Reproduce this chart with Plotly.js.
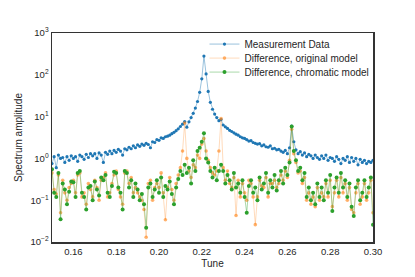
<!DOCTYPE html>
<html>
<head>
<meta charset="utf-8">
<script src="https://cdn.plot.ly/plotly-3.0.1.min.js"></script>
<style>html,body{margin:0;padding:0;background:#fff;}#chart{width:415px;height:277px;}</style>
</head>
<body>
<div id="chart"></div>
<script>
// Tune grid: 0.150 .. 0.300, step 0.001
const tuneStart = 0.150, tuneStep = 0.001, tuneCount = 151;
const tune = Array.from({length: tuneCount}, (_, i) => +(tuneStart + i * tuneStep).toFixed(3));

const measurement = [
 0.75,1.1,0.6,1.2,1.0,1.05,0.8,1.1,0.9,1.15,
 1.0,1.1,0.85,1.2,1.1,0.95,1.25,1.05,1.3,1.15,
 1.3,1.0,1.35,1.2,0.8,1.4,1.25,1.5,1.3,1.55,
 1.4,1.65,1.5,1.2,1.7,1.6,1.85,1.7,2.0,1.8,
 2.1,1.95,2.2,2.05,2.3,2.15,1.8,2.5,2.4,2.8,
 2.7,3.1,3.0,3.3,3.4,3.6,3.9,4.2,4.6,5.1,
 5.8,6.6,7.6,5.6,7.5,9.5,12,16,23,38,
 80,280,105,40,22,15,11.5,9.5,8,8.5,
 6.3,5.7,5.2,4.7,4.4,4.1,3.8,3.6,3.3,3.1,
 3.0,2.8,2.6,2.65,2.4,2.3,2.2,2.25,2.0,2.1,
 1.9,1.85,2.0,1.7,1.75,1.6,1.65,1.5,1.4,1.55,
 1.3,1.8,5.9,2.5,1.6,1.3,1.45,1.2,1.35,1.1,
 1.25,1.15,1.0,1.2,1.05,0.95,1.15,1.0,1.2,0.9,
 1.05,1.0,0.85,1.1,0.95,0.75,1.0,0.9,1.1,0.8,
 1.05,0.85,1.0,0.7,0.95,0.8,0.9,0.75,0.85,0.8,
 0.9
];

const diffOriginal = [
 0.45,0.18,0.14,0.4,0.05,0.3,0.15,0.1,0.2,0.25,
 0.3,0.15,0.4,0.45,0.12,0.15,0.08,0.25,0.18,0.12,
 0.3,0.2,0.1,0.3,0.35,0.45,0.12,0.15,0.25,0.4,
 0.5,0.18,0.12,0.08,0.45,0.5,0.25,0.35,0.15,0.2,
 0.15,0.12,0.1,0.06,0.013,0.25,0.3,0.1,0.2,0.25,
 0.2,0.45,0.15,0.034,0.2,0.35,0.18,0.1,0.25,0.4,
 0.6,1.5,7.0,1.0,0.5,0.35,0.7,0.6,1.2,1.0,
 2.2,3.0,1.5,0.9,0.6,0.45,0.4,0.5,1.5,9.0,
 0.6,0.3,0.5,0.25,0.2,0.35,0.043,0.3,0.12,0.25,
 0.15,0.1,0.3,0.25,0.12,0.026,0.12,0.3,0.22,0.2,
 0.35,0.12,0.25,0.25,0.3,0.2,0.25,0.4,0.3,0.5,
 0.35,0.9,5.0,1.3,0.8,0.45,0.5,0.25,0.35,0.1,
 0.15,0.08,0.12,0.07,0.2,0.1,0.15,0.12,0.25,0.12,
 0.3,0.07,0.15,0.3,0.12,0.35,0.15,0.25,0.1,0.2,
 0.06,0.05,0.15,0.25,0.08,0.12,0.25,0.1,0.15,0.3,
 0.05
];

const diffChromatic = [
 0.55,0.15,0.12,0.45,0.035,0.25,0.18,0.08,0.16,0.28,
 0.27,0.12,0.45,0.5,0.15,0.12,0.06,0.2,0.22,0.1,
 0.28,0.18,0.13,0.35,0.3,0.4,0.15,0.12,0.22,0.48,
 0.45,0.2,0.15,0.06,0.5,0.45,0.2,0.3,0.12,0.25,
 0.18,0.1,0.14,0.08,0.022,0.2,0.25,0.12,0.18,0.3,
 0.15,0.35,0.12,0.22,0.18,0.28,0.14,0.08,0.2,0.32,
 0.5,0.4,0.7,0.45,0.6,0.25,0.9,0.5,1.5,1.8,
 2.5,4.0,1.0,0.8,0.5,0.35,0.6,0.3,0.5,0.7,
 0.5,0.25,0.4,0.3,0.18,0.45,0.2,0.25,0.15,0.3,
 0.12,0.05,0.22,0.3,0.15,0.2,0.1,0.35,0.18,0.25,
 0.45,0.15,0.3,0.2,0.4,0.17,0.3,0.5,0.25,0.6,
 0.4,0.8,5.8,1.5,0.9,0.5,0.6,0.3,0.45,0.12,
 0.2,0.1,0.15,0.08,0.25,0.12,0.2,0.1,0.3,0.15,
 0.4,0.055,0.2,0.35,0.15,0.45,0.2,0.3,0.12,0.25,
 0.07,0.042,0.2,0.3,0.1,0.15,0.3,0.12,0.2,0.35,
 0.026
];

const seriesNames = ['Measurement Data', 'Difference, original model', 'Difference, chromatic model'];
const yTickVals = [0.01, 0.1, 1, 10, 100, 1000];
const yTickText = ['10<sup>\u22122</sup>', '10<sup>\u22121</sup>', '10<sup>0</sup>', '10<sup>1</sup>', '10<sup>2</sup>', '10<sup>3</sup>'];
const xTickVals = [0.16, 0.18, 0.20, 0.22, 0.24, 0.26, 0.28, 0.30];
const xTickText = ['0.16', '0.18', '0.20', '0.22', '0.24', '0.26', '0.28', '0.30'];

const FONT = 'Liberation Sans, Arial, sans-serif';

const traces = [
  {x: tune, y: measurement, name: seriesNames[0], type: 'scatter', mode: 'lines+markers',
   line: {color: 'rgba(31,119,180,0.45)', width: 1},
   marker: {color: '#1f77b4', size: 3.2}, legend: 'legend'},
  {x: tune, y: diffOriginal, name: seriesNames[1], type: 'scatter', mode: 'lines+markers',
   line: {color: 'rgba(255,127,14,0.28)', width: 1},
   marker: {color: 'rgba(255,127,14,0.6)', size: 3.6}, legend: 'legend2'},
  {x: tune, y: diffChromatic, name: seriesNames[2], type: 'scatter', mode: 'lines+markers',
   line: {color: 'rgba(44,160,44,0.4)', width: 1},
   marker: {color: '#2ca02c', size: 4}, legend: 'legend3'}
];

const legendBase = {x: 0.475, xanchor: 'left', yanchor: 'middle', bgcolor: 'rgba(0,0,0,0)',
  borderwidth: 0, font: {family: FONT, size: 10, color: '#262626'}};

const layout = {
  width: 415, height: 277,
  margin: {l: 52, r: 42, t: 33, b: 35},
  paper_bgcolor: '#fff', plot_bgcolor: '#fff',
  font: {family: FONT, size: 9.5, color: '#262626'},
  showlegend: true,
  legend: Object.assign({}, legendBase, {y: 0.947}),
  legend2: Object.assign({}, legendBase, {y: 0.880}),
  legend3: Object.assign({}, legendBase, {y: 0.813}),
  xaxis: {
    range: [0.15, 0.30], showgrid: false, zeroline: false,
    tickvals: xTickVals, ticktext: xTickText, ticks: '',
    showline: true, mirror: true, linecolor: '#333', linewidth: 1.5,
    tickfont: {family: FONT, size: 9.5, color: '#262626'},
    title: {text: 'Tune', font: {family: FONT, size: 10, color: '#262626'}, standoff: 4}
  },
  yaxis: {
    type: 'log', range: [-2, 3], showgrid: false, zeroline: false,
    tickvals: yTickVals, ticktext: yTickText, ticks: '',
    showline: true, mirror: true, linecolor: '#333', linewidth: 1.5,
    tickfont: {family: FONT, size: 9.5, color: '#262626'},
    title: {text: 'Spectrum amplitude', font: {family: FONT, size: 10, color: '#262626'}, standoff: 6}
  }
};

Plotly.newPlot('chart', traces, layout, {displayModeBar: false, staticPlot: true});
</script>
</body>
</html>
